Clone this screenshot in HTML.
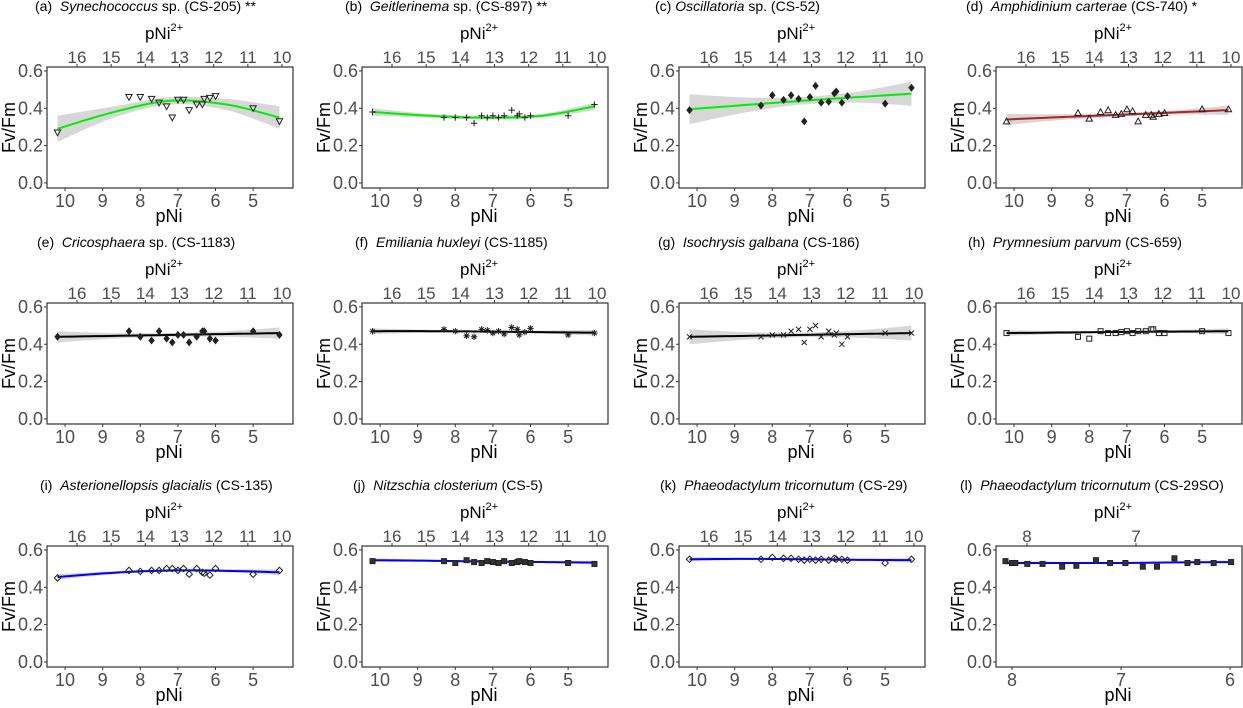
<!DOCTYPE html>
<html><head><meta charset="utf-8"><style>
body{margin:0;background:#fff;}
svg{display:block;font-family:"Liberation Sans",Arial,sans-serif;}
</style></head><body>
<svg id="fig" width="1243" height="708" viewBox="0 0 1243 708"></svg>
<script>
// ---- data ----
const xsCommon = [10.2,8.3,8.0,7.7,7.5,7.3,7.15,7.0,6.85,6.7,6.5,6.35,6.3,6.15,6.0,5.0,4.3];
const xsL = [8.06,8.0,7.97,7.86,7.72,7.54,7.41,7.23,7.10,6.96,6.80,6.67,6.51,6.39,6.30,6.15,5.99];
const knotsCommon = [10.2,8.7,7.2,5.7,4.3];
const knotsL = [8.06,7.5,7.0,6.5,5.99];
const bottomTicks = [10,9,8,7,6,5];
const bottomTicksL = [8,7,6];
const topTicks = [16,15,14,13,12,11,10];
const topTicksL = [8,7];
const yTicks = [0.0,0.2,0.4,0.6];

const yA = [0.27,0.46,0.46,0.45,0.43,0.41,0.35,0.445,0.445,0.39,0.42,0.42,0.45,0.455,0.465,0.40,0.33];
const yB = [0.38,0.35,0.35,0.35,0.32,0.36,0.35,0.36,0.35,0.36,0.39,0.36,0.37,0.35,0.36,0.36,0.42];
const yC = [0.39,0.415,0.47,0.445,0.47,0.45,0.33,0.46,0.52,0.43,0.435,0.48,0.49,0.43,0.465,0.425,0.51];
const yD = [0.33,0.375,0.345,0.38,0.39,0.365,0.37,0.395,0.385,0.33,0.365,0.365,0.355,0.37,0.375,0.395,0.395];
const yE = [0.44,0.47,0.44,0.42,0.47,0.43,0.41,0.45,0.45,0.41,0.44,0.47,0.47,0.43,0.42,0.47,0.45];
const yF = [0.47,0.48,0.47,0.445,0.44,0.48,0.475,0.46,0.47,0.455,0.49,0.48,0.45,0.465,0.485,0.45,0.46];
const yG = [0.44,0.44,0.45,0.45,0.47,0.48,0.41,0.48,0.50,0.44,0.47,0.45,0.46,0.40,0.44,0.46,0.46];
const yH = [0.46,0.44,0.43,0.47,0.46,0.46,0.465,0.47,0.46,0.47,0.47,0.48,0.48,0.46,0.46,0.47,0.46];
const yI = [0.45,0.49,0.485,0.49,0.49,0.50,0.50,0.49,0.50,0.47,0.50,0.48,0.475,0.465,0.50,0.47,0.49];
const yJ = [0.54,0.54,0.53,0.545,0.535,0.53,0.54,0.535,0.53,0.54,0.53,0.535,0.54,0.535,0.53,0.53,0.525];
const yK = [0.55,0.55,0.56,0.555,0.555,0.55,0.545,0.55,0.545,0.55,0.545,0.555,0.55,0.55,0.545,0.53,0.55];
const yL = [0.54,0.53,0.53,0.525,0.525,0.51,0.515,0.545,0.53,0.53,0.51,0.51,0.555,0.53,0.535,0.53,0.535];

const fitA=[0.29,0.38,0.44,0.42,0.35], seA=[0.07,0.03,0.02,0.03,0.06];
const fitB=[0.38,0.36,0.35,0.36,0.41], seB=[0.02,0.01,0.01,0.01,0.02];
const fitC=[0.395,0.418,0.44,0.46,0.478], seC=[0.08,0.04,0.02,0.03,0.065];
const fitD=[0.34,0.353,0.365,0.378,0.39], seD=[0.03,0.015,0.01,0.012,0.025];
const fitE=[0.44,0.445,0.45,0.455,0.46], seE=[0.03,0.015,0.01,0.015,0.03];
const fitF=[0.47,0.47,0.468,0.465,0.462], seF=[0.015,0.008,0.006,0.008,0.015];
const fitG=[0.44,0.445,0.45,0.455,0.46], seG=[0.04,0.02,0.012,0.02,0.04];
const fitH=[0.46,0.463,0.466,0.468,0.47], seH=[0.015,0.008,0.005,0.008,0.015];
const fitI=[0.455,0.478,0.49,0.488,0.48], seI=[0.015,0.008,0.006,0.008,0.015];
const fitJ=[0.545,0.542,0.538,0.535,0.532], seJ=[0.01,0.006,0.005,0.006,0.01];
const fitK=[0.55,0.552,0.55,0.547,0.545], seK=[0.012,0.006,0.005,0.006,0.012];
const fitL=[0.53,0.53,0.53,0.533,0.535], seL=[0.01,0.005,0.004,0.005,0.008];

const SP='\u00a0\u00a0';
const panels = [
 {id:'a',pre:'(a)'+SP,it:'Synechococcus',post:' sp. (CS-205) **',tx:35,col:'#00ee00',mk:'tridown',y:yA,fit:fitA,se:seA},
 {id:'b',pre:'(b)'+SP,it:'Geitlerinema',post:' sp. (CS-897) **',tx:345,col:'#00ee00',mk:'plus',y:yB,fit:fitB,se:seB},
 {id:'c',pre:'(c) ',it:'Oscillatoria',post:' sp. (CS-52)',tx:655,col:'#00ee00',mk:'fdiamond',y:yC,fit:fitC,se:seC},
 {id:'d',pre:'(d)'+SP,it:'Amphidinium carterae',post:' (CS-740) *',tx:966,col:'#b22222',mk:'triup',y:yD,fit:fitD,se:seD},
 {id:'e',pre:'(e)'+SP,it:'Cricosphaera',post:' sp. (CS-1183)',tx:37,col:'#000',mk:'fdiamond',y:yE,fit:fitE,se:seE},
 {id:'f',pre:'(f)'+SP,it:'Emiliania huxleyi',post:' (CS-1185)',tx:355,col:'#000',mk:'star',y:yF,fit:fitF,se:seF},
 {id:'g',pre:'(g)'+SP,it:'Isochrysis galbana',post:' (CS-186)',tx:658,col:'#000',mk:'x',y:yG,fit:fitG,se:seG},
 {id:'h',pre:'(h)'+SP,it:'Prymnesium parvum',post:' (CS-659)',tx:968,col:'#000',mk:'square',y:yH,fit:fitH,se:seH},
 {id:'i',pre:'(i)'+SP,it:'Asterionellopsis glacialis',post:' (CS-135)',tx:40,col:'#0000ff',mk:'diamond',y:yI,fit:fitI,se:seI},
 {id:'j',pre:'(j)'+SP,it:'Nitzschia closterium',post:' (CS-5)',tx:353,col:'#0000ff',mk:'fsquare',y:yJ,fit:fitJ,se:seJ},
 {id:'k',pre:'(k)'+SP,it:'Phaeodactylum tricornutum',post:' (CS-29)',tx:660,col:'#0000ff',mk:'diamond',y:yK,fit:fitK,se:seK},
 {id:'l',pre:'(l)'+SP,it:'Phaeodactylum tricornutum',post:' (CS-29SO)',tx:960,col:'#0000ff',mk:'fsquare',y:yL,fit:fitL,se:seL}
];
const colLeft=[47,362,679,996], rowTop=[67,303,546], W=246, H=121;

const NS='http://www.w3.org/2000/svg';
const svg=document.getElementById('fig');
function mk(tag,attrs,parent){const e=document.createElementNS(NS,tag);for(const k in attrs)e.setAttribute(k,attrs[k]);(parent||svg).appendChild(e);return e;}
// smooth curve through points (Catmull-Rom sampled)
function smooth(pts){
 const out=[];
 for(let i=0;i<pts.length-1;i++){
  const p0=pts[Math.max(i-1,0)],p1=pts[i],p2=pts[i+1],p3=pts[Math.min(i+2,pts.length-1)];
  for(let s=0;s<10;s++){const t=s/10,t2=t*t,t3=t2*t;
   const f=(a,b,c,d)=>0.5*((2*b)+(-a+c)*t+(2*a-5*b+4*c-d)*t2+(-a+3*b-3*c+d)*t3);
   out.push([f(p0[0],p1[0],p2[0],p3[0]),f(p0[1],p1[1],p2[1],p3[1])]);}
 }
 out.push(pts[pts.length-1]);return out;
}

panels.forEach((p,idx)=>{
 const L=colLeft[idx%4], T=rowTop[Math.floor(idx/4)];
 const isL = p.id==='l';
 const xMax = isL?8.147:10.48, xMin = isL?5.89:3.94;
 const xs = isL?xsL:xsCommon, knots = isL?knotsL:knotsCommon;
 const sx = v => L + (xMax-v)/(xMax-xMin)*W;
 const yTop=0.621, yBot=-0.027;
 const sy = v => T + (yTop-v)/(yTop-yBot)*H;
 const topPos = isL ? (t => L+31+(8-t)*109) : (t => L+30+(16-t)*34.17);

 const g=mk('g',{});
 
 

 const title=mk('text',{x:p.tx,y:T-56,'font-size':14,fill:'#000'},g);
 
 
 const t1=mk('tspan',{},title);t1.textContent=p.pre;
 const t2=mk('tspan',{'font-style':'italic'},title);t2.textContent=p.it;
 const t3=mk('tspan',{},title);t3.textContent=p.post.replace(/^ /,'\u00a0');

 const tt=mk('text',{x:L+W/2-6,y:T-28,'font-size':17,'text-anchor':'middle',fill:'#000'},g);
 
 
 const s1=mk('tspan',{},tt);s1.textContent='pNi';
 const s2=mk('tspan',{'font-size':11,dy:-8},tt);s2.textContent='2+';

 (isL?topTicksL:topTicks).forEach(t=>{
  const x=topPos(t);
  const tl=mk('text',{x:x,y:T-4,'font-size':17,'text-anchor':'middle',fill:'#4d4d4d'},g);
  
  
  tl.textContent=t;
  mk('line',{x1:x,x2:x,y1:T-3,y2:T,stroke:'#333','stroke-width':1},g);
 });

 const upP=smooth(knots.map((k,i)=>[sx(k),sy(p.fit[i]+p.se[i])]));
 const loP=smooth(knots.map((k,i)=>[sx(k),sy(p.fit[i]-p.se[i])])).reverse();
 const rib=mk('polygon',{points:upP.concat(loP).map(q=>q.join(',')).join(' '),fill:'#d3d3d3','fill-opacity':0.9},g);
 
 
 const fitP=smooth(knots.map((k,i)=>[sx(k),sy(p.fit[i])]));
 const fl=mk('polyline',{points:fitP.map(q=>q.join(',')).join(' '),fill:'none',stroke:p.col,'stroke-width':2},g);
 
 

 xs.forEach((xv,i)=>{
  const cx=sx(xv), cy=sy(p.y[i]), r=3.2;
  let e;
  const st={stroke:'#222','stroke-width':1};
  switch(p.mk){
   case 'tridown': e=mk('polygon',Object.assign({points:`${cx-r},${cy-r*0.8} ${cx+r},${cy-r*0.8} ${cx},${cy+r}`,fill:'none'},st),g);break;
   case 'triup': e=mk('polygon',Object.assign({points:`${cx-r},${cy+r*0.8} ${cx+r},${cy+r*0.8} ${cx},${cy-r}`,fill:'none'},st),g);break;
   case 'plus': e=mk('path',Object.assign({d:`M${cx-r} ${cy}H${cx+r}M${cx} ${cy-r}V${cy+r}`},st),g);break;
   case 'x': e=mk('path',Object.assign({d:`M${cx-r*0.8} ${cy-r*0.8}L${cx+r*0.8} ${cy+r*0.8}M${cx-r*0.8} ${cy+r*0.8}L${cx+r*0.8} ${cy-r*0.8}`},st),g);break;
   case 'star': e=mk('path',Object.assign({d:`M${cx-r} ${cy}H${cx+r}M${cx} ${cy-r}V${cy+r}M${cx-r*0.7} ${cy-r*0.7}L${cx+r*0.7} ${cy+r*0.7}M${cx-r*0.7} ${cy+r*0.7}L${cx+r*0.7} ${cy-r*0.7}`},st),g);break;
   case 'fdiamond': e=mk('polygon',Object.assign({points:`${cx},${cy-r} ${cx+r*0.8},${cy} ${cx},${cy+r} ${cx-r*0.8},${cy}`,fill:'#222'},st),g);break;
   case 'diamond': e=mk('polygon',Object.assign({points:`${cx},${cy-r} ${cx+r},${cy} ${cx},${cy+r} ${cx-r},${cy}`,fill:'none'},st),g);break;
   case 'square': e=mk('rect',Object.assign({x:cx-2.5,y:cy-2.5,width:5,height:5,fill:'none'},st),g);break;
   default: e=mk('rect',Object.assign({x:cx-2.5,y:cy-2.5,width:5,height:5,fill:'#333'},st),g);
  }
  
  
 });

 const box=mk('rect',{x:L,y:T,width:W,height:H,fill:'none',stroke:'#333','stroke-width':1.2},g);
 
 

 yTicks.forEach(v=>{
  const y=sy(v);
  mk('line',{x1:L-3,x2:L,y1:y,y2:y,stroke:'#333'},g);
  const yl=mk('text',{x:L-4,y:y+6,'font-size':18,'text-anchor':'end',fill:'#4d4d4d'},g);
  
  
  yl.textContent=v.toFixed(1);
 });
 (isL?bottomTicksL:bottomTicks).forEach(v=>{
  const x=sx(v);
  mk('line',{x1:x,x2:x,y1:T+H,y2:T+H+3,stroke:'#333'},g);
  const xl=mk('text',{x:x,y:T+H+19,'font-size':18,'text-anchor':'middle',fill:'#4d4d4d'},g);
  
  
  xl.textContent=v;
 });
 const xt=mk('text',{x:L+W/2-1,y:T+H+34,'font-size':18,'text-anchor':'middle',fill:'#000'},g);
 
 
 xt.textContent='pNi';
 const yt=mk('text',{x:0,y:0,'font-size':18,'text-anchor':'middle',fill:'#000',transform:`translate(${L-32},${T+H/2}) rotate(-90)`},g);
 
 
 yt.textContent='Fv/Fm';
});
</script>
</body></html>
